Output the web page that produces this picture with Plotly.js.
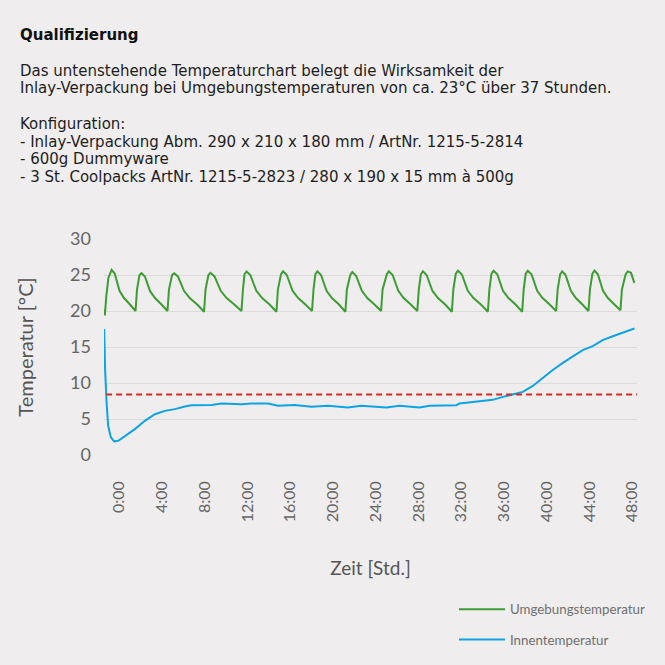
<!DOCTYPE html>
<html>
<head>
<meta charset="utf-8">
<script src="https://cdn.plot.ly/plotly-3.0.1.min.js"></script>
<style>html,body{margin:0;padding:0;background:#efeded;}</style>
</head>
<body>
<div id="chart" style="width:665px;height:665px;"></div>
<script>
// ---- data (hours, °C) ----
var seriesNames = ["Umgebungstemperatur", "Innentemperatur"];
var tickHours = [0, 4, 8, 12, 16, 20, 24, 28, 32, 36, 40, 44, 48];
var tickLabels = ["0:00", "4:00", "8:00", "12:00", "16:00", "20:00", "24:00", "28:00", "32:00", "36:00", "40:00", "44:00", "48:00"];
var limitValue = 8.4;
var headerLines = [
  "<b>Qualifizierung</b>",
  "Das untenstehende Temperaturchart belegt die Wirksamkeit der",
  "Inlay-Verpackung bei Umgebungstemperaturen von ca. 23°C über 37 Stunden.",
  "Konfiguration:",
  "- Inlay-Verpackung Abm. 290 x 210 x 180 mm / ArtNr. 1215-5-2814",
  "- 600g Dummyware",
  "- 3 St. Coolpacks ArtNr. 1215-5-2823 / 280 x 190 x 15 mm à 500g"
];

var ambientHours = [
  -1.40, -1.34, -1.21, -1.01, -0.71, -0.42, 0.03, 0.45, 1.01,
  1.53, 1.67, 1.90, 2.09, 2.41, 2.89, 3.35, 3.96,
  4.52, 4.66, 4.95, 5.14, 5.50, 6.06, 6.60, 7.30,
  7.94, 8.08, 8.35, 8.54, 8.92, 9.50, 10.05, 10.77,
  11.44, 11.58, 11.72, 11.91, 12.27, 12.83, 13.37, 14.07,
  14.71, 14.85, 15.14, 15.33, 15.68, 16.22, 16.74, 17.42,
  18.04, 18.18, 18.35, 18.54, 18.88, 19.40, 19.90, 20.56,
  21.16, 21.30, 21.62, 21.81, 22.16, 22.70, 23.21, 23.88,
  24.50, 24.64, 25.04, 25.23, 25.58, 26.11, 26.61, 27.28,
  27.89, 28.03, 28.22, 28.41, 28.76, 29.30, 29.82, 30.50,
  31.12, 31.26, 31.49, 31.68, 32.05, 32.61, 33.14, 33.84,
  34.49, 34.63, 34.83, 35.02, 35.37, 35.90, 36.41, 37.08,
  37.70, 37.84, 38.03, 38.22, 38.57, 39.10, 39.60, 40.27,
  40.88, 41.02, 41.25, 41.44, 41.76, 42.25, 42.72, 43.33,
  43.90, 44.04, 44.27, 44.46, 44.78, 45.26, 45.72, 46.33,
  46.89, 47.03, 47.38, 47.57, 47.88, 48.19
];
var ambientValues = [
  20.2, 19.4, 22.0, 24.6, 25.7, 25.2, 22.8, 21.8, 20.9,
  20.0, 23.0, 25.0, 25.25, 24.8, 22.75, 21.8, 20.9,
  20.0, 23.0, 25.0, 25.25, 24.8, 22.8, 21.8, 20.9,
  19.9, 23.0, 25.0, 25.3, 24.8, 22.8, 21.8, 20.9,
  20.0, 23.0, 25.1, 25.5, 25.0, 22.8, 21.8, 20.9,
  19.9, 23.0, 25.1, 25.5, 25.0, 22.8, 21.8, 20.9,
  20.0, 23.0, 25.1, 25.5, 25.0, 22.8, 21.8, 20.9,
  19.9, 23.0, 25.0, 25.4, 24.9, 22.8, 21.8, 20.9,
  20.0, 23.0, 25.1, 25.5, 25.0, 22.8, 21.8, 20.9,
  20.0, 23.0, 25.1, 25.5, 25.0, 22.8, 21.8, 20.9,
  19.9, 23.0, 25.2, 25.6, 25.1, 22.8, 21.8, 20.9,
  19.9, 23.0, 25.2, 25.6, 25.1, 22.8, 21.8, 20.9,
  19.9, 23.0, 25.2, 25.6, 25.1, 22.8, 21.8, 20.9,
  20.0, 23.0, 25.1, 25.5, 25.0, 22.8, 21.8, 20.9,
  20.0, 23.0, 25.2, 25.6, 25.1, 22.8, 21.8, 20.9,
  20.1, 23.0, 25.1, 25.5, 25.3, 23.9
];

var innerHours = [
  -1.40, -1.32, -1.18, -1.03, -0.78, -0.47, -0.09, 0.53, 1.47, 2.40,
  3.34, 4.27, 5.21, 6.14, 6.77, 8.64, 9.57, 11.44, 12.37, 13.93,
  14.86, 16.42, 17.98, 19.53, 21.40, 22.65, 24.99, 26.23, 28.10, 29.04,
  31.53, 31.84, 33.71, 34.95, 35.89, 36.82, 37.76, 38.69, 39.63, 40.56,
  41.50, 42.43, 43.36, 44.30, 45.23, 46.17, 47.10, 48.20
];
var innerValues = [
  17.5, 12.0, 7.3, 4.05, 2.45, 1.9, 1.98, 2.6, 3.6, 4.75,
  5.67, 6.13, 6.37, 6.74, 6.92, 6.96, 7.15, 7.06, 7.15, 7.15,
  6.83, 6.96, 6.69, 6.83, 6.6, 6.83, 6.6, 6.83, 6.6, 6.83,
  6.92, 7.15, 7.43, 7.66, 8.07, 8.44, 8.76, 9.59, 10.75, 11.8,
  12.8, 13.74, 14.57, 15.13, 15.95, 16.5, 16.97, 17.57
];

// ---- chart ----
var chartFont = "Lato, 'Open Sans', sans-serif";
var textFont = "'DejaVu Sans', Verdana, sans-serif";

var traces = [
  {x: ambientHours, y: ambientValues, name: seriesNames[0], type: "scatter", mode: "lines",
   line: {color: "#3d9c33", width: 2}, legendgroup: "a", hoverinfo: "skip"},
  {x: innerHours, y: innerValues, name: seriesNames[1], type: "scatter", mode: "lines",
   line: {color: "#0ea3e3", width: 2}, legendgroup: "b", hoverinfo: "skip"}
];

var L = 104, R = 637, T = 239, B = 456;
function px(xp) { return (xp - L) / (R - L); }
function py(yp) { return (B - yp) / (B - T); }

var lineCenters = [34, 69.8, 87.4, 123.4, 141.2, 159.0, 176.8];
var annotations = headerLines.map(function (txt, i) {
  return {xref: "paper", yref: "paper", x: px(19), y: py(lineCenters[i]), xanchor: "left", yanchor: "middle",
          showarrow: false, align: "left", text: txt, borderpad: 0,
          font: {family: textFont, size: 15, color: i === 0 ? "#111" : "#1e1e1e"}};
});

var layout = {
  width: 665, height: 665,
  paper_bgcolor: "#efeded", plot_bgcolor: "#efeded",
  margin: {l: L, r: 665 - R, t: T, b: 665 - B, pad: 0},
  showlegend: true,
  legend: {x: px(454), y: py(594), xanchor: "left", yanchor: "top",
           bgcolor: "rgba(0,0,0,0)", font: {family: chartFont, size: 13.3, color: "#707070"},
           tracegroupgap: 10, traceorder: "grouped", itemwidth: 46},
  xaxis: {range: [-1.42, 48.44], tickmode: "array", tickvals: tickHours, ticktext: tickLabels,
          tickangle: -90, showgrid: false, zeroline: false, showline: false, ticks: "",
          ticklabelstandoff: 22,
          tickfont: {family: chartFont, size: 16, color: "#666"},
          title: {text: "Zeit [Std.]", font: {family: chartFont, size: 19, color: "#555"}, standoff: 40}},
  yaxis: {range: [0, 30], tickvals: [0, 5, 10, 15, 20, 25, 30], showgrid: true,
          gridcolor: "#dcdbdb", gridwidth: 1, zeroline: false, showline: false, ticks: "",
          ticklabelstandoff: 12,
          tickfont: {family: chartFont, size: 18, color: "#666"},
          title: {text: "Temperatur [°C]", font: {family: chartFont, size: 20, color: "#555"}, standoff: 31}},
  shapes: [
    {type: "line", xref: "paper", x0: 0.004, x1: 1, yref: "y", y0: limitValue, y1: limitValue,
     line: {color: "#d42a1e", width: 2, dash: "6px,4px"}}
  ],
  annotations: annotations
};

Plotly.newPlot("chart", traces, layout, {staticPlot: true, displayModeBar: false});
</script>
</body>
</html>
